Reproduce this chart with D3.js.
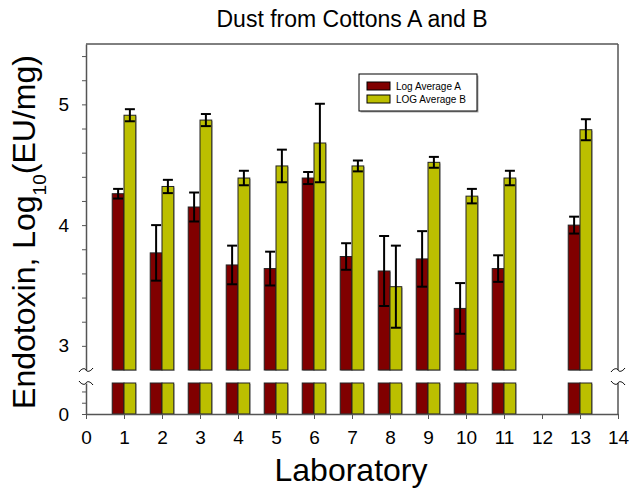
<!DOCTYPE html>
<html>
<head>
<meta charset="utf-8">
<script src="https://cdn.jsdelivr.net/npm/d3@7"></script>
<style>
  body { margin: 0; background: #fff; }
  svg { font-family: Arial, "Liberation Sans", sans-serif; }
</style>
</head>
<body>
<div class="box"></div>
<script>
// lab numbers and values (lab 12 has no data)
var labs = [1, 2, 3, 4, 5, 6, 7, 8, 9, 10, 11, 13];
var avgA = [4.26, 3.77, 4.15, 3.67, 3.64, 4.39, 3.74, 3.62, 3.72, 3.31, 3.64, 4.00];
var errA = [0.04, 0.23, 0.12, 0.16, 0.14, 0.05, 0.11, 0.29, 0.23, 0.21, 0.11, 0.07];
var avgB = [4.91, 4.32, 4.87, 4.39, 4.49, 4.68, 4.49, 3.49, 4.52, 4.24, 4.39, 4.79];
var errB = [0.05, 0.055, 0.05, 0.06, 0.135, 0.325, 0.045, 0.34, 0.045, 0.06, 0.06, 0.087];
var seriesNames = ["Log Average A", "LOG Average B"];
var colors = ["#800000", "#bcbf00"];
var xTicks = d3.range(0, 15);
var yMajor = [3, 4, 5];
var yMinor = [3.2, 3.4, 3.6, 3.8, 4.2, 4.4, 4.6, 4.8, 5.2, 5.4];
var lowTicks = [0, 0.2, 0.4];

var width = 632, height = 490;
var m = { left: 86, right: 618, top: 44, bottom: 414 };
var breakTop = 370, breakLow = 383;

var svg = d3.select(".box").append("svg")
    .attr("width", width).attr("height", height);

var x = d3.scaleLinear().domain([0, 14]).range([m.left, m.right]);
var yTop = d3.scaleLinear().domain([2.8, 5.5]).range([breakTop, m.top]);
var yLow = d3.scaleLinear().domain([0, 0.55]).range([m.bottom, breakLow]);
var bw = x(0.31) - x(0);

var data = labs.map(function (lab, i) {
    return { lab: lab, vals: [avgA[i], avgB[i]], errs: [errA[i], errB[i]] };
});

// bars: lower segment + upper segment, with faint shadow
var g = svg.append("g");
data.forEach(function (d) {
    d.vals.forEach(function (v, k) {
        var x0 = k == 0 ? x(d.lab) - bw : x(d.lab);
        var segs = [[yLow(0.55), yLow(0)], [yTop(v), yTop(2.8)]];
        segs.forEach(function (s) {
            g.append("rect")
                .attr("x", x0 + 1).attr("y", s[0] + 1)
                .attr("width", bw).attr("height", s[1] - s[0])
                .attr("fill", "#bbb");
            g.append("rect")
                .attr("x", x0).attr("y", s[0])
                .attr("width", bw).attr("height", s[1] - s[0])
                .attr("fill", colors[k])
                .attr("stroke", "#222").attr("stroke-width", 1);
        });
    });
});

// error bars
var eb = svg.append("g").attr("stroke", "#000").attr("stroke-width", 2);
data.forEach(function (d) {
    d.vals.forEach(function (v, k) {
        var cx = k == 0 ? x(d.lab) - bw / 2 : x(d.lab) + bw / 2;
        var y1 = yTop(v + d.errs[k]), y2 = yTop(v - d.errs[k]);
        eb.append("line").attr("x1", cx).attr("x2", cx).attr("y1", y1).attr("y2", y2);
        eb.append("line").attr("x1", cx - 5).attr("x2", cx + 5).attr("y1", y1).attr("y2", y1);
        eb.append("line").attr("x1", cx - 5).attr("x2", cx + 5).attr("y1", y2).attr("y2", y2);
    });
});

// frame
var axisColor = "#555";
svg.append("line").attr("x1", m.left).attr("x2", m.right).attr("y1", m.top).attr("y2", m.top)
    .attr("stroke", "#000").attr("stroke-width", 1);
svg.append("line").attr("x1", m.right).attr("x2", m.right).attr("y1", m.top).attr("y2", breakTop)
    .attr("stroke", axisColor).attr("stroke-width", 1.5);
svg.append("line").attr("x1", m.right).attr("x2", m.right).attr("y1", breakLow).attr("y2", m.bottom)
    .attr("stroke", axisColor).attr("stroke-width", 1.5);

// y axes
var fmt = function (d) { return Number.isInteger(d) ? d : ""; };
var axTop = svg.append("g").attr("transform", "translate(" + m.left + ",0)")
    .call(d3.axisLeft(yTop).tickValues(yMajor.concat(yMinor)).tickFormat(fmt)
        .tickSizeInner(4).tickSizeOuter(0).tickPadding(13));
var axLow = svg.append("g").attr("transform", "translate(" + m.left + ",0)")
    .call(d3.axisLeft(yLow).tickValues(lowTicks).tickFormat(fmt)
        .tickSizeInner(4).tickSizeOuter(0).tickPadding(13));
[axTop, axLow].forEach(function (a) {
    a.select(".domain").attr("stroke", axisColor).attr("stroke-width", 1.5);
    a.selectAll(".tick line").attr("stroke", axisColor);
    a.selectAll("text").attr("font-size", 19).attr("fill", "#000");
});

// x axis
var axX = svg.append("g").attr("transform", "translate(0," + m.bottom + ")")
    .call(d3.axisBottom(x).tickValues(xTicks).tickSizeInner(5).tickSizeOuter(0).tickPadding(12));
axX.select(".domain").attr("stroke", axisColor).attr("stroke-width", 1.5);
axX.selectAll(".tick line").attr("stroke", axisColor);
axX.selectAll("text").attr("font-size", 19).attr("fill", "#000");

// axis break squiggles
function squiggle(cx, cy, up) {
    var d = up ? -1 : 1;
    svg.append("path")
        .attr("d", "M" + (cx - 7) + "," + (cy + 2 * d) + " C" + (cx - 4) + "," + (cy - 2 * d) + " "
            + (cx - 1) + "," + (cy - 2 * d) + " " + cx + "," + cy
            + " S" + (cx + 4) + "," + (cy + 2 * d) + " " + (cx + 7) + "," + (cy - 2 * d))
        .attr("fill", "none").attr("stroke", "#000").attr("stroke-width", 1);
}
squiggle(m.left, breakTop, false);
squiggle(m.left, breakLow, true);
squiggle(m.right, breakTop, false);
squiggle(m.right, breakLow, true);

// title and labels
svg.append("text").attr("x", 352).attr("y", 27).attr("text-anchor", "middle")
    .attr("font-size", 23).text("Dust from Cottons A and B");
svg.append("text").attr("x", 351).attr("y", 481).attr("text-anchor", "middle")
    .attr("font-size", 32).text("Laboratory");
var yl = svg.append("text").attr("transform", "translate(35,232) rotate(-90)")
    .attr("text-anchor", "middle").attr("font-size", 32);
yl.append("tspan").text("Endotoxin, Log");
yl.append("tspan").attr("font-size", 19).attr("dy", 11).text("10");
yl.append("tspan").attr("dy", -11).text("(EU/mg)");

// legend
var lg = svg.append("g").attr("transform", "translate(359,74)");
lg.append("rect").attr("x", 1.5).attr("y", 1.5).attr("width", 118).attr("height", 37).attr("fill", "#aaa");
lg.append("rect").attr("width", 118).attr("height", 37).attr("fill", "#fff")
    .attr("stroke", "#000").attr("stroke-width", 1);
seriesNames.forEach(function (n, i) {
    lg.append("rect").attr("x", 8).attr("y", 8 + i * 13).attr("width", 23).attr("height", 8)
        .attr("fill", colors[i]).attr("stroke", "#000").attr("stroke-width", 1);
    lg.append("text").attr("x", 37).attr("y", 16 + i * 13).attr("font-size", 10).text(n);
});
</script>
</body>
</html>
